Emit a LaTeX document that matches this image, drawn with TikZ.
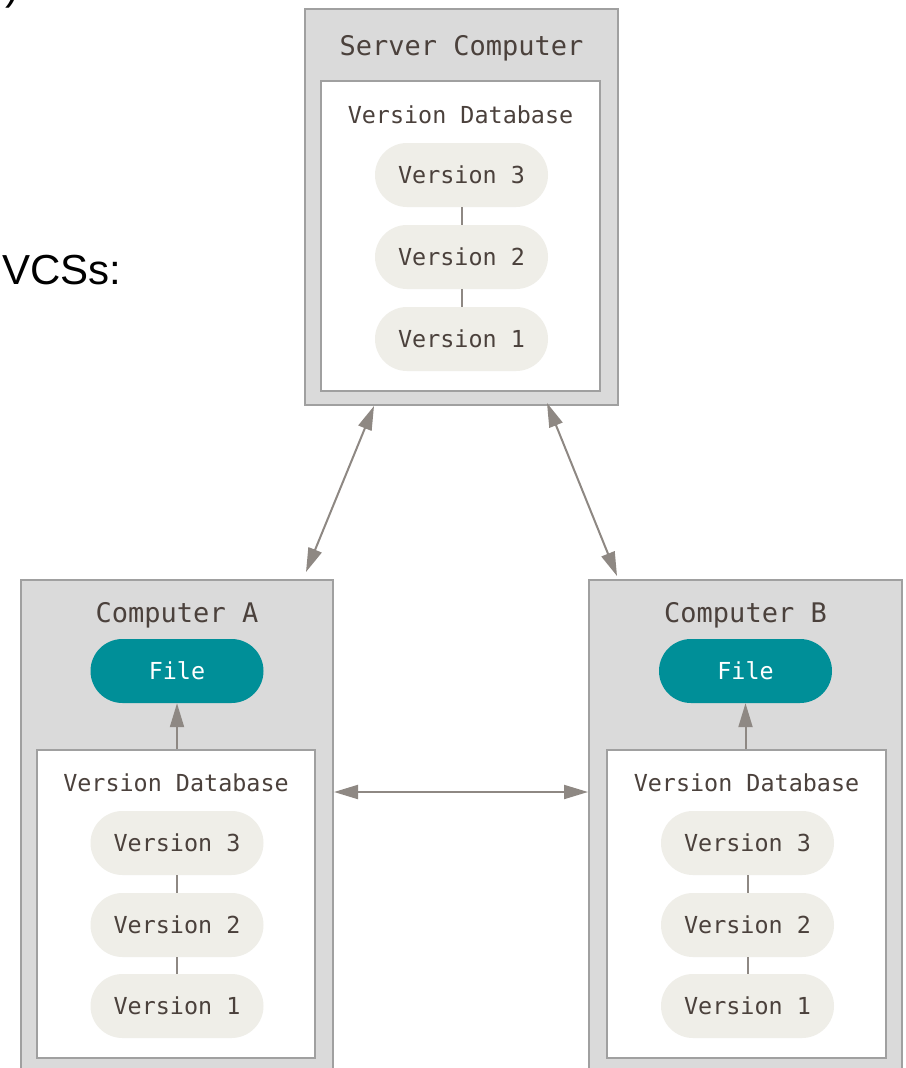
\documentclass[tikz,border=0pt]{standalone}
\usepackage{fontspec}
\setmainfont{Liberation Sans}
\newfontfamily\codefont{DejaVu Sans Mono}
\usetikzlibrary{arrows.meta}
\definecolor{outerfill}{HTML}{DADADA}
\definecolor{boxline}{HTML}{A0A0A0}
\definecolor{pillfill}{HTML}{EFEEE8}
\definecolor{fileteal}{HTML}{008F98}
\definecolor{ink}{HTML}{4B413C}
\definecolor{arrowc}{HTML}{8E8883}
\tikzset{
  outerbox/.style={draw=boxline, fill=outerfill, line width=2pt, inner sep=0pt},
  innerbox/.style={draw=boxline, fill=white, line width=2pt, inner sep=0pt},
  pill/.style={fill=pillfill, rounded corners=32pt, minimum width=173pt, minimum height=64pt, inner sep=0pt, text=ink, font=\codefont\fontsize{23.4pt}{28pt}\selectfont},
  filepill/.style={pill, fill=fileteal, text=white},
  boxtitle/.style={text=ink, inner sep=0pt, anchor=base, font=\codefont\fontsize{27pt}{32pt}\selectfont},
  dbtitle/.style={text=ink, inner sep=0pt, anchor=base, font=\codefont\fontsize{23.4pt}{28pt}\selectfont},
  link/.style={draw=arrowc, line width=2pt},
  arr/.style={link, -{Triangle[length=24pt,width=14pt]}},
  darr/.style={link, {Triangle[length=24pt,width=14pt]}-{Triangle[length=24pt,width=14pt]}},
  prose/.style={inner sep=0pt, anchor=base west, font=\fontsize{42pt}{50pt}\selectfont}
}
\begin{document}
\begin{tikzpicture}[x=1pt,y=-1pt]
\useasboundingbox (0,0) rectangle (905,1068);
\clip (0,0) rectangle (905,1068);
% prose fragments
\node[prose] (paren) at (5,0) {)};
\node[prose] (vcss) at (2,284) {VCSs:};
% server
\node[outerbox, minimum width=313pt, minimum height=396pt] (server) at (461.5,207) {};
\node[innerbox, minimum width=279pt, minimum height=310pt] (sdb) at (460.5,236) {};
\node[boxtitle] (stitle) at (461.5,55) {Server Computer};
\node[dbtitle] (sdbt) at (460.5,123) {Version Database};
% computer A
\node[outerbox, minimum width=312pt, minimum height=510pt] (A) at (177,835) {};
\node[innerbox, minimum width=278pt, minimum height=308pt] (Adb) at (176,904) {};
\node[boxtitle] (Atitle) at (177,622) {Computer A};
\node[dbtitle] (Adbt) at (176,791) {Version Database};
% computer B
\node[outerbox, minimum width=313pt, minimum height=510pt] (B) at (745.5,835) {};
\node[innerbox, minimum width=279pt, minimum height=308pt] (Bdb) at (746.5,904) {};
\node[boxtitle] (Btitle) at (745.5,622) {Computer B};
\node[dbtitle] (Bdbt) at (746.5,791) {Version Database};
% pills
\node[pill] (s3) at (461.5,175) {Version 3};
\node[pill] (s2) at (461.5,257) {Version 2};
\node[pill] (s1) at (461.5,339) {Version 1};
\node[filepill] (Afile) at (177,671) {File};
\node[pill] (a3) at (177,843) {Version 3};
\node[pill] (a2) at (177,925) {Version 2};
\node[pill] (a1) at (177,1006) {Version 1};
\node[filepill] (Bfile) at (745.5,671) {File};
\node[pill] (b3) at (747.5,843) {Version 3};
\node[pill] (b2) at (747.5,925) {Version 2};
\node[pill] (b1) at (747.5,1006) {Version 1};
% links
\draw[link] (s3) -- (s2);
\draw[link] (s2) -- (s1);
\draw[link] (a3) -- (a2);
\draw[link] (a2) -- (a1);
\draw[link] (b3) -- (b2);
\draw[link] (b2) -- (b1);
% arrows
\draw[arr] (Adb.north -| Afile) -- (Afile.south);
\draw[arr] (Bdb.north -| Bfile) -- (Bfile.south);
\draw[darr] ([yshift=43pt]A.east) -- ([yshift=43pt]B.west);
\draw[darr] ([xshift=70pt]server.south west) -- ([xshift=-28pt,yshift=7pt]A.north east);
\draw[darr] ([xshift=243pt,yshift=3pt]server.south west) -- ([xshift=29pt,yshift=3pt]B.north west);
\end{tikzpicture}
\end{document}
